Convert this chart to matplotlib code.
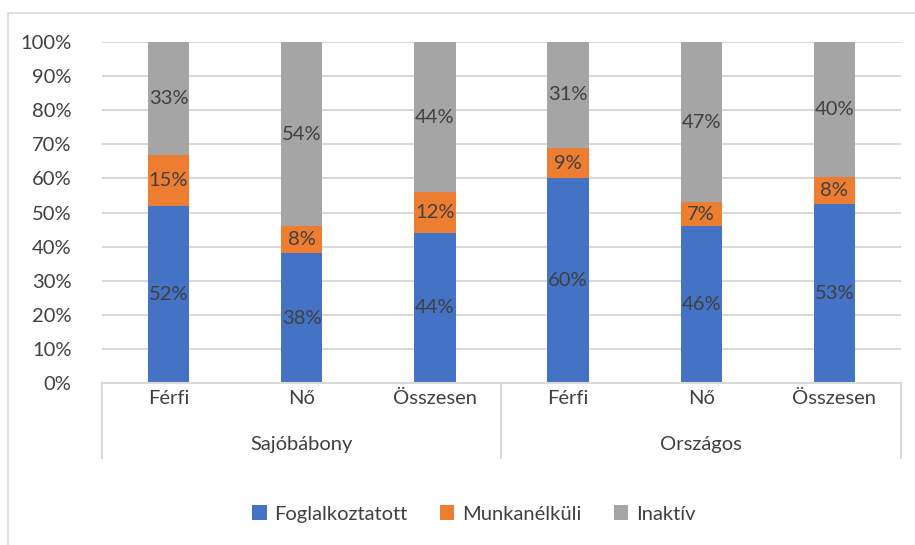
import matplotlib.pyplot as plt
import matplotlib.patches as mpatches
from matplotlib.lines import Line2D
import numpy as np

plt.rcParams['font.family'] = ['Lato', 'DejaVu Sans']

groups = ["Sajóbábony", "Országos"]
subcats = ["Férfi", "Nő", "Összesen", "Férfi", "Nő", "Összesen"]
series = ["Foglalkoztatott", "Munkanélküli", "Inaktív"]
foglalkoztatott = [52, 38, 44, 60, 46, 53]
munkanelkuli = [15, 8, 12, 9, 7, 8]
inaktiv = [33, 54, 44, 31, 47, 40]
colors = ["#4472c4", "#ed7d31", "#a5a5a5"]
txt = "#404040"
fs = 14.5

vals = np.array([foglalkoztatott, munkanelkuli, inaktiv], dtype=float)
shares = vals / vals.sum(axis=0) * 100

W, H = 915, 545
fig = plt.figure(figsize=(W / 100, H / 100), dpi=100)
ax = fig.add_axes([102 / W, 1 - 383 / H, (901 - 102) / W, (383 - 42) / H])

x = np.arange(len(subcats))
bottom = np.zeros(len(subcats))
for i, name in enumerate(series):
    ax.bar(x, shares[i], 0.31, bottom=bottom, color=colors[i], label=name, zorder=2)
    for j in range(len(subcats)):
        ax.text(x[j], bottom[j] + shares[i][j] / 2, f"{int(vals[i][j])}%",
                ha="center", va="center", fontsize=fs, color=txt, zorder=3)
    bottom += shares[i]

ax.set_xlim(-0.5, len(subcats) - 0.5)
ax.set_ylim(0, 100)
ax.set_yticks(range(0, 101, 10))
ax.set_yticklabels([f"{v}%" for v in range(0, 101, 10)])
ax.tick_params(axis="y", length=0, pad=22, labelsize=fs, labelcolor=txt)
ax.set_xticks([])
ax.grid(axis="y", color="#d9d9d9", lw=1.5, zorder=0)
for s in ["top", "right", "left"]:
    ax.spines[s].set_visible(False)
ax.spines["bottom"].set_color("#d9d9d9")
ax.spines["bottom"].set_linewidth(1.5)

tr = ax.get_xaxis_transform()
for j, lab in enumerate(subcats):
    ax.text(x[j], -0.044, lab, transform=tr, ha="center", va="center",
            fontsize=fs, color=txt)
for g, lab in enumerate(groups):
    ax.text(g * 3 + 1, -0.179, lab, transform=tr, ha="center", va="center",
            fontsize=fs, color=txt)
for xv in [-0.5, 2.5, 5.5]:
    ax.add_line(Line2D([xv, xv], [0, -0.22], transform=tr, color="#d9d9d9",
                       lw=1.5, clip_on=False))

fig.patches.append(mpatches.Rectangle((8 / W, -0.01), 1.1, 1 - 13 / H + 0.01,
                                      transform=fig.transFigure, fill=False,
                                      edgecolor="#d9d9d9", lw=1.2))

ax.legend(loc="center", bbox_to_anchor=(0.518, 31 / H), bbox_transform=fig.transFigure,
          ncol=3, frameon=False, fontsize=fs, labelcolor=txt,
          handlelength=0.7, handleheight=0.7, handletextpad=0.4, columnspacing=1.6)

fig.savefig("out.png", dpi=100)
